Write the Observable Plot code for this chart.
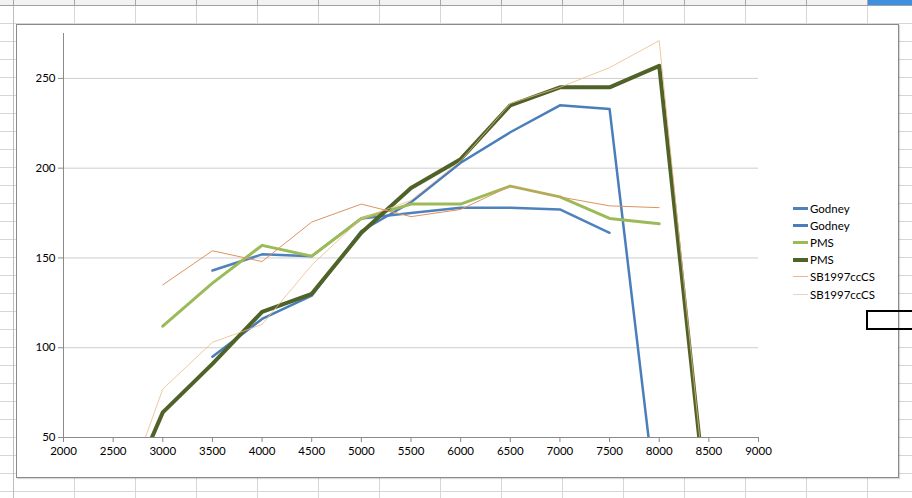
<!DOCTYPE html>
<html>
<head>
<meta charset="utf-8">
<script src="https://cdn.jsdelivr.net/npm/d3@7"></script>
<script src="https://cdn.jsdelivr.net/npm/@observablehq/plot@0.6"></script>
<style>
  html, body { margin:0; padding:0; }
  body {
    width:912px; height:498px; overflow:hidden; position:relative; background:#fff;
    background-image:
      linear-gradient(to right, #d6d6d6 1px, transparent 1px),
      linear-gradient(to bottom, #d6d6d6 1px, transparent 1px);
    background-size:61px 18px;
    background-position:13px 5px;
    font-family: Lato, "Open Sans", sans-serif;
  }
  #hdr { position:absolute; left:0; top:0; width:912px; height:5px; background:#f2f2f2; border-bottom:1px solid #a0a0a0;
    background-image: linear-gradient(to right, #a8a8a8 1px, transparent 1px); background-size:61px 5px; background-position:13px 0; }
  #hdrsel { position:absolute; left:868px; top:0; width:44px; height:5px; background:#3d8fe0; }
  #rowhdr { position:absolute; left:0; top:6px; width:13px; height:492px; border-right:1px solid #bdbdbd; }
  #sel { position:absolute; left:866px; top:310px; width:60px; height:16px; border:2px solid #000; z-index:5; }
  #box { position:absolute; left:16px; top:24px; width:881px; height:452px; border:1px solid #8a8a8a; background:#fff;
    box-shadow: 1px 1px 1px rgba(0,0,0,0.15); z-index:1; }
  #plot { position:absolute; left:0; top:0; }
  #legend { position:absolute; left:776px; top:175px; font-size:11.5px; color:#000; }
  .li { display:flex; align-items:center; height:17.1px; }
  .sw { width:15px; margin-right:2px; }
</style>
</head>
<body>
<div id="hdr"></div><div id="hdrsel"></div><div id="rowhdr"></div>
<div id="box"><div id="plot"></div><div id="legend"></div></div>
<div id="sel"></div>
<script>
// ---- data ----
const rpm     = [2500, 3000, 3500, 4000, 4500, 5000, 5500, 6000, 6500, 7000, 7500, 8000, 8500];
const godneyA = [null, null, 143, 152, 151, 172, 175, 178, 178, 177, 164, null, null];
const godneyB = [null, null, 95, 116, 129, 165, 181, 203, 220, 235, 233, 0, null];
const pmsA    = [null, 112, 136, 157, 151, 172, 180, 180, 190, 184, 172, 169, null];
const pmsB    = [0, 64, 91, 120, 130, 164, 189, 205, 235, 245, 245, 257, 0];
const sbA     = [null, 135, 154, 148, 170, 180, 173, 177, 190, 184, 179, 178, null];
const sbB     = [0, 77, 103, 113, 146, 172, 182, 204, 236, 245, 256, 271, 0];

const seriesNames = ["Godney", "Godney", "PMS", "PMS", "SB1997ccCS", "SB1997ccCS"];
const seriesValues = [godneyA, godneyB, pmsA, pmsB, sbA, sbB];
const seriesColors = ["#4F81BD", "#4A7EBB", "#9BBB59", "#4F6228", "#DE9360", "#EDBA88"];
const seriesWidths = [2.5, 2.5, 3, 4, 1, 0.8];
const legendColors = ["#4F81BD", "#4A7EBB", "#9BBB59", "#4F6228", "#F2B58E", "#EAD3C0"];

const xTicks = [2000, 2500, 3000, 3500, 4000, 4500, 5000, 5500, 6000, 6500, 7000, 7500, 8000, 8500, 9000];
const yTicks = [50, 100, 150, 200, 250];

const fmt = d3.format("d");
const lineMarks = seriesValues.map((vals, i) =>
  Plot.line(rpm.map((r, j) => ({rpm: r, v: vals[j]})), {
    x: "rpm", y: "v", stroke: seriesColors[i], strokeWidth: seriesWidths[i],
    strokeLinejoin: "round", clip: true
  })
);

const chart = Plot.plot({
  width: 881, height: 452,
  marginLeft: 46, marginRight: 140, marginTop: 8, marginBottom: 40,
  x: {domain: [2000, 9000], label: null},
  y: {domain: [50, 275], label: null},
  style: {fontFamily: "Lato, 'Open Sans', sans-serif", fontSize: "11.5px", color: "#000", background: "transparent"},
  marks: [
    Plot.ruleY(yTicks.filter(d => d > 50), {stroke: "#cdcdcd"}),
    Plot.ruleX([2000], {stroke: "#8a8a8a"}),
    Plot.ruleY([50], {stroke: "#8a8a8a"}),
    Plot.axisX({ticks: xTicks, tickSize: 5, tickPadding: 4, tickFormat: fmt, stroke: "#8a8a8a", fill: "#000", label: null}),
    Plot.axisY({ticks: yTicks, tickSize: 5, tickPadding: 3, tickFormat: fmt, stroke: "#8a8a8a", fill: "#000", label: null}),
    ...lineMarks
  ]
});
document.getElementById("plot").appendChild(chart);

const legend = d3.select("#legend");
seriesNames.forEach((name, i) => {
  const row = legend.append("div").attr("class", "li");
  row.append("div").attr("class", "sw")
    .style("height", Math.max(1, Math.min(seriesWidths[i], 3.5)) + "px")
    .style("background", legendColors[i]);
  row.append("span").text(name);
});
</script>
</body>
</html>
